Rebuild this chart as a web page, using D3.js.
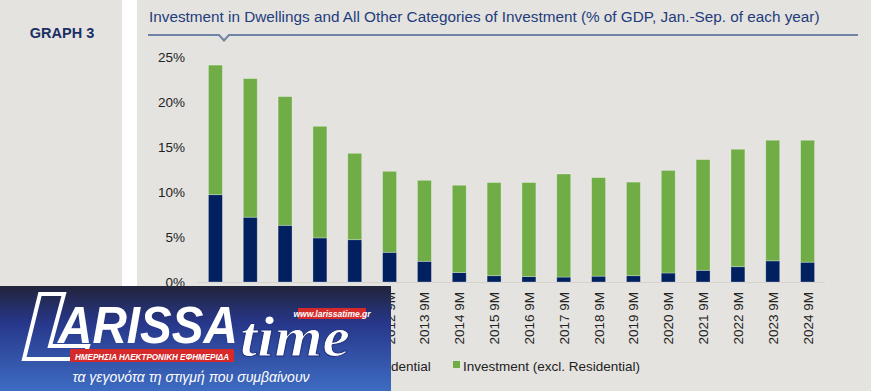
<!DOCTYPE html>
<html>
<head>
<meta charset="utf-8">
<script src="https://cdn.jsdelivr.net/npm/d3@7"></script>
<style>
  body { margin: 0; background: #e4e3df; }
  svg { display: block; font-family: Arial, "Liberation Sans", sans-serif; }
</style>
</head>
<body>
<div id="chart"></div>
<script>
// --- Data (% of GDP)
var years = ['2007 9M', '2008 9M', '2009 9M', '2010 9M', '2011 9M', '2012 9M', '2013 9M', '2014 9M', '2015 9M',
  '2016 9M', '2017 9M', '2018 9M', '2019 9M', '2020 9M', '2021 9M', '2022 9M', '2023 9M', '2024 9M'];
var residential = [9.7, 7.2, 6.3, 4.9, 4.7, 3.3, 2.3, 1.05, 0.7, 0.6, 0.55, 0.65, 0.7, 1.0, 1.3, 1.7, 2.35, 2.2];
var totals = [24.1, 22.6, 20.6, 17.3, 14.3, 12.3, 11.3, 10.75, 11.05, 11.05, 12.0, 11.6, 11.1, 12.4, 13.6, 14.75, 15.75, 15.75];
var other = totals.map(function(t, i) { return +(t - residential[i]).toFixed(2); });
var yTicks = [0, 5, 10, 15, 20, 25];
var seriesNames = ['Residential', 'Investment (excl. Residential)'];

var width = 871, height = 391;
var navy = '#002060', green = '#70ad47';

var svg = d3.select('#chart').append('svg')
  .attr('width', width)
  .attr('height', height);

// --- Backgrounds
svg.append('rect').attr('x', 0).attr('y', 0).attr('width', width).attr('height', height).attr('fill', '#e4e3df');
svg.append('rect').attr('x', 122).attr('y', 0).attr('width', 15).attr('height', height).attr('fill', '#ffffff');

svg.append('text')
  .attr('x', 62).attr('y', 38)
  .attr('text-anchor', 'middle')
  .attr('font-size', 14.5).attr('font-weight', 'bold')
  .attr('fill', '#1b2f66')
  .text('GRAPH 3');

// --- Title + underline with notch
svg.append('text')
  .attr('x', 149).attr('y', 22)
  .attr('font-size', 15.3)
  .attr('fill', '#1f3c7c')
  .text('Investment in Dwellings and All Other Categories of Investment (% of GDP, Jan.-Sep. of each year)');

svg.append('path')
  .attr('d', 'M148,35 L219,35 L224,40.5 L229,35 L858,35')
  .attr('fill', 'none')
  .attr('stroke', '#6f83a6')
  .attr('stroke-width', 2);

// --- Scales
var x = d3.scaleBand().domain(years).range([198, 825]).paddingInner(0.6).paddingOuter(0.3);
var y = d3.scaleLinear().domain([0, 25]).range([282, 57]);

// y tick labels
svg.append('g')
  .selectAll('text')
  .data(yTicks)
  .enter()
  .append('text')
  .attr('x', 185)
  .attr('y', function(d) { return y(d) + 5; })
  .attr('text-anchor', 'end')
  .attr('font-size', 13.5)
  .attr('fill', '#222')
  .text(function(d) { return d + '%'; });

// baseline
svg.append('line')
  .attr('x1', 198).attr('x2', 825)
  .attr('y1', y(0) + 0.5).attr('y2', y(0) + 0.5)
  .attr('stroke', '#d4d3cf');

// --- Stacked bars
var table = years.map(function(yr, i) { return { year: yr, res: residential[i], other: other[i] }; });
var stack = d3.stack().keys(['res', 'other'])(table);
var colors = [navy, green];

svg.append('g')
  .selectAll('g')
  .data(stack)
  .enter()
  .append('g')
  .attr('fill', function(d, i) { return colors[i]; })
  .selectAll('rect')
  .data(function(d) { return d; })
  .enter()
  .append('rect')
  .attr('x', function(d) { return x(d.data.year); })
  .attr('width', x.bandwidth())
  .attr('y', function(d) { return y(d[1]); })
  .attr('height', function(d) { return y(d[0]) - y(d[1]); })
  .attr('stroke', 'rgba(255,255,255,0.35)')
  .attr('stroke-width', 0.8);

// x labels (rotated)
svg.append('g')
  .selectAll('text')
  .data(years)
  .enter()
  .append('text')
  .attr('transform', function(d) {
    return 'translate(' + (x(d) + x.bandwidth() / 2 + 5) + ',292) rotate(-90)';
  })
  .attr('text-anchor', 'end')
  .attr('font-size', 13.5)
  .attr('fill', '#222')
  .text(function(d) { return d; });

// --- Legend
var legendX = [354, 453];
var legend = svg.append('g')
  .selectAll('g')
  .data(seriesNames)
  .enter()
  .append('g')
  .attr('transform', function(d, i) { return 'translate(' + legendX[i] + ',360)'; });
legend.append('rect')
  .attr('x', 0).attr('y', 1).attr('width', 7).attr('height', 7)
  .attr('fill', function(d, i) { return colors[i]; });
legend.append('text')
  .attr('x', 10).attr('y', 11)
  .attr('font-size', 13.5)
  .attr('fill', '#222')
  .text(function(d) { return d; });

// --- Logo overlay (bottom left)
var defs = svg.append('defs');
var grad = defs.append('linearGradient').attr('id', 'logoGrad').attr('x1', 0).attr('y1', 0).attr('x2', 0).attr('y2', 1);
grad.append('stop').attr('offset', '0%').attr('stop-color', '#22243a');
grad.append('stop').attr('offset', '35%').attr('stop-color', '#27378a');
grad.append('stop').attr('offset', '100%').attr('stop-color', '#3d6cc2');

var logo = svg.append('g').attr('transform', 'translate(0,286)');
logo.append('rect').attr('width', 391).attr('height', 105).attr('fill', 'url(#logoGrad)');

// the "L" frame
logo.append('path')
  .attr('d', 'M40,8 L64,8 L50,60 L88,60 L84,73 L24,73 Z')
  .attr('fill', 'none').attr('stroke', '#ffffff').attr('stroke-width', 4);
logo.append('text')
  .attr('x', 58).attr('y', 57)
  .attr('font-size', 52).attr('font-weight', 'bold').attr('font-style', 'italic')
  .attr('font-family', '"Liberation Sans Narrow", "Liberation Sans", Arial, sans-serif')
  .attr('fill', '#ffffff')
  .attr('textLength', 180)
  .attr('lengthAdjust', 'spacingAndGlyphs')
  .text('ARISSA');
logo.append('text')
  .attr('x', 240).attr('y', 70)
  .attr('font-size', 56).attr('font-style', 'italic').attr('font-weight', 'bold')
  .attr('font-family', '"Liberation Serif", "DejaVu Serif", serif')
  .attr('fill', '#ffffff')
  .attr('stroke', '#1f2f80').attr('stroke-width', 1)
  .attr('textLength', 110)
  .attr('lengthAdjust', 'spacingAndGlyphs')
  .text('time');

logo.append('rect').attr('x', 298).attr('y', 22).attr('width', 68).attr('height', 11).attr('fill', '#d62a2a');
logo.append('text')
  .attr('x', 332).attr('y', 31)
  .attr('text-anchor', 'middle')
  .attr('font-size', 8.5).attr('font-weight', 'bold').attr('font-style', 'italic')
  .attr('fill', '#ffffff')
  .text('www.larissatime.gr');

logo.append('rect').attr('x', 70).attr('y', 63).attr('width', 164).attr('height', 13).attr('fill', '#d62a2a');
logo.append('text')
  .attr('x', 152).attr('y', 73.5)
  .attr('text-anchor', 'middle')
  .attr('font-size', 9).attr('font-weight', 'bold').attr('font-style', 'italic')
  .attr('fill', '#ffffff')
  .attr('textLength', 154)
  .attr('lengthAdjust', 'spacingAndGlyphs')
  .text('ΗΜΕΡΗΣΙΑ ΗΛΕΚΤΡΟΝΙΚΗ ΕΦΗΜΕΡΙΔΑ');

logo.append('text')
  .attr('x', 191).attr('y', 96)
  .attr('text-anchor', 'middle')
  .attr('font-size', 14).attr('font-style', 'italic')
  .attr('fill', '#ffffff')
  .text('τα γεγονότα τη στιγμή που συμβαίνουν');
</script>
</body>
</html>
